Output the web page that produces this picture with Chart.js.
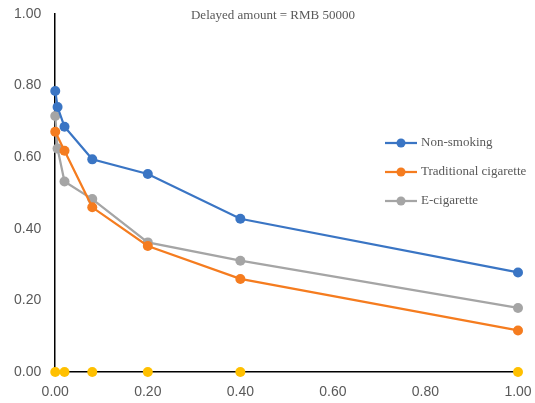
<!DOCTYPE html>
<html>
<head>
<meta charset="utf-8">
<script src="https://cdn.jsdelivr.net/npm/chart.js@4"></script>
<style>
  html, body { margin: 0; padding: 0; background: #fff; }
  #wrap { width: 535px; height: 403px; position: relative; }
</style>
</head>
<body>
<div id="wrap"><canvas id="chart"></canvas></div>
<script>
// probability levels (x) and the three groups
var probs = [0, 0.005, 0.02, 0.08, 0.20, 0.40, 1.00];
var nonSmoking = [0.785, 0.74, 0.685, 0.594, 0.553, 0.428, 0.278];
var traditional = [0.671, null, 0.618, 0.46, 0.352, 0.26, 0.116];
var eCig = [0.715, 0.624, 0.532, 0.483, 0.362, 0.311, 0.179];
var baseX = [0, 0.02, 0.08, 0.20, 0.40, 1.00];
var baseY = [0, 0, 0, 0, 0, 0];
var yTicks = [0, 0.2, 0.4, 0.6, 0.8, 1.0];
var titleText = 'Delayed amount = RMB 50000';

// orange has no point at 0.005, skip the nulls
function pts(xs, ys) {
  var out = [];
  for (var i = 0; i < xs.length; i++) {
    if (ys[i] !== null) out.push({ x: xs[i], y: ys[i] });
  }
  return out;
}

var BLUE = '#3a75c4', ORANGE = '#f57c1f', GREY = '#a5a5a5', YELLOW = '#ffc000';
var TEXT = '#595959';

function series(label, data, color, legend) {
  return {
    label: label,
    data: data,
    borderColor: color,
    backgroundColor: color,
    borderWidth: 2.25,
    pointRadius: 5,
    pointHoverRadius: 5,
    pointBorderWidth: 0,
    showLine: true,
    clip: false,
    inLegend: legend
  };
}

// title and legend sit inside the plot, like the excel original
var overlay = {
  id: 'overlay',
  afterDraw: function(chart) {
    var c = chart.ctx;
    c.save();
    c.fillStyle = TEXT;
    c.font = '13px "Liberation Serif"';
    c.textAlign = 'center';
    c.textBaseline = 'middle';
    c.fillText(titleText, 273, 16);

    var rowY = 143;
    c.textAlign = 'left';
    chart.data.datasets.forEach(function(ds) {
      if (!ds.inLegend) return;
      c.strokeStyle = ds.borderColor;
      c.lineWidth = 2.25;
      c.beginPath();
      c.moveTo(385, rowY);
      c.lineTo(417, rowY);
      c.stroke();
      c.fillStyle = ds.borderColor;
      c.beginPath();
      c.arc(401, rowY, 4.5, 0, Math.PI * 2);
      c.fill();
      c.fillStyle = TEXT;
      c.fillText(ds.label, 421, rowY);
      rowY += 29;
    });
    c.restore();
  }
};

var ctx = document.getElementById('chart').getContext('2d');
var chart = new Chart(ctx, {
  type: 'scatter',
  data: {
    datasets: [
      series('Non-smoking', pts(probs, nonSmoking), BLUE, true),
      series('Traditional cigarette', pts(probs, traditional), ORANGE, true),
      series('E-cigarette', pts(probs, eCig), GREY, true),
      Object.assign(series('', pts(baseX, baseY), YELLOW, false), { showLine: false })
    ]
  },
  plugins: [overlay],
  options: {
    responsive: true,
    maintainAspectRatio: false,
    animation: false,
    layout: { autoPadding: false, padding: { top: 14, right: 17, bottom: 0, left: 0 } },
    plugins: {
      title: { display: false },
      legend: { display: false },
      tooltip: { enabled: false }
    },
    scales: {
      x: {
        type: 'linear',
        min: 0,
        max: 1,
        afterFit: function(axis) {
          axis.height = 31;
          axis.paddingLeft = 0;
          axis.paddingRight = 0;
        },
        grid: { display: false, drawTicks: true, tickLength: 4, tickColor: '#000' },
        border: { color: '#000', width: 1.5 },
        ticks: {
          stepSize: 0.2,
          padding: 9,
          color: TEXT,
          font: { family: 'Liberation Sans', size: 14, lineHeight: 1 },
          callback: function(v) { return v.toFixed(2); }
        }
      },
      y: {
        min: 0,
        max: 1,
        afterBuildTicks: function(axis) { axis.ticks = yTicks.map(function(v) { return { value: v }; }); },
        afterFit: function(axis) {
          axis.paddingTop = 0;
          axis.paddingBottom = 0;
        },
        grid: { display: false, drawTicks: false },
        border: { color: '#000', width: 1.5 },
        ticks: {
          padding: 14,
          color: TEXT,
          font: { family: 'Liberation Sans', size: 14 },
          callback: function(v) { return v.toFixed(2); }
        }
      }
    }
  }
});
</script>
</body>
</html>
